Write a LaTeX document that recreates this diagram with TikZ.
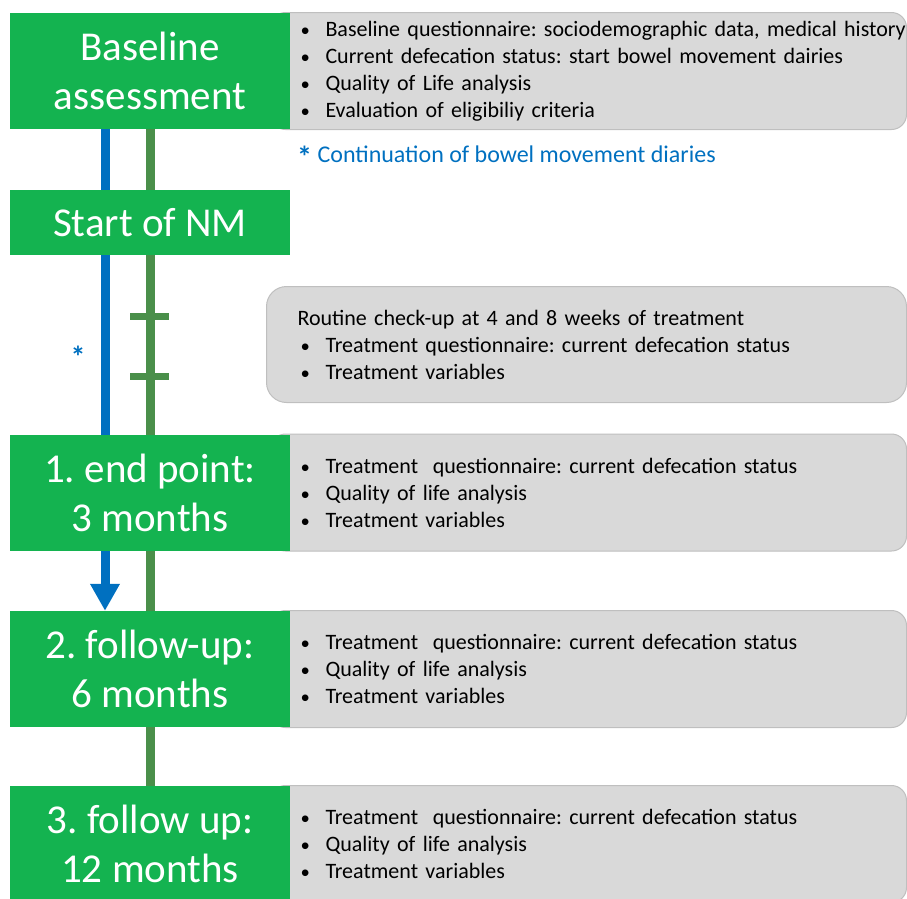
\documentclass[tikz,border=0pt]{standalone}
\usepackage{fontspec}
\setmainfont{Carlito}
\usetikzlibrary{arrows.meta,backgrounds}
\definecolor{boxgreen}{RGB}{20,179,80}
\definecolor{linegreen}{RGB}{74,143,74}
\definecolor{lineblue}{RGB}{0,112,192}
\definecolor{infogray}{RGB}{217,217,217}
\definecolor{infoborder}{RGB}{191,191,191}
\frenchspacing

\begin{document}
\begin{tikzpicture}[x=1pt,y=-1pt]
    \newcommand{\itm}[1]{\mbox{\makebox[25pt][l]{\scalebox{0.85}{\textbullet}}#1}}
    \newcommand{\bigstar}{\textbf{\fontsize{30}{27}\selectfont\raisebox{-5pt}{*}}}

    \tikzstyle{stage}=[
      fill=boxgreen,
      text=white,
      minimum width=280pt,
      minimum height=116pt,
      inner sep=0pt,
      align=center,
      font=\fontsize{41}{49}\selectfont,
    ]
    \tikzstyle{info}=[
      fill=infogray,
      draw=infoborder,
      line width=1pt,
      rounded corners=15pt,
      anchor=west,
      minimum height=117pt,
      text width=576pt,
      inner xsep=30pt,
      align=left,
      font=\fontsize{22}{27}\selectfont,
    ]
    \tikzstyle{routinebox}=[
      info,
      rounded corners=20pt,
      minimum height=116pt,
      text width=578pt,
      inner xsep=31pt,
    ]
    \tikzstyle{greentrack}=[line width=9pt,draw=linegreen]
    \tikzstyle{bluetrack}=[line width=9pt,draw=lineblue,-{Triangle[width=28pt,length=27pt]}]
    \tikzstyle{tickmark}=[line width=7pt,draw=linegreen]
    \tikzstyle{note}=[text=lineblue,font=\fontsize{24}{27}\selectfont,inner sep=0pt]

    \useasboundingbox (0,0) rectangle (907,898);

    {
      \node[info] (baseinfo) at (270,71) {%
        \itm{Baseline questionnaire: sociodemographic data, medical history}\\
        \itm{Current defecation status: start bowel movement dairies}\\
        \itm{Quality of Life analysis}\\
        \itm{Evaluation of eligibiliy criteria}};
      \node[routinebox] (routine) at (266,344.5) {%
        Routine check-up at 4 and 8 weeks of treatment\\
        \hspace*{3pt}\itm{Treatment questionnaire: current defecation status}\\
        \hspace*{3pt}\itm{Treatment variables}};
      \node[info] (endinfo) at (270,492.5) {%
        \itm{Treatment~ questionnaire: current defecation status}\\
        \itm{Quality of life analysis}\\
        \itm{Treatment variables}};
      \node[info] (fu6info) at (270,669) {%
        \itm{Treatment~ questionnaire: current defecation status}\\
        \itm{Quality of life analysis}\\
        \itm{Treatment variables}};
      \node[info] (fu12info) at (270,844) {%
        \itm{Treatment~ questionnaire: current defecation status}\\
        \itm{Quality of life analysis}\\
        \itm{Treatment variables}};
    }

    {
      \node[stage] (base) at (150,71) {Baseline\\assessment};
      \node[stage,minimum height=65pt] (start) at (150,222.5) {Start of NM};
      \node[stage] (endp) at (150,492.5) {1. end point:\\3 months};
      \node[stage] (fu6) at (150,669) {2. follow-up:\\6 months};
      \node[stage] (fu12) at (150,844) {3. follow up:\\12 months};
    }

    \node[note,anchor=west] (diarynote) at (297,157) {\bigstar\ Continuation of bowel movement diaries};
    \node[note] (star) at (78,357) {\bigstar};

    \coordinate (tick1) at (150,316);
    \coordinate (tick2) at (150,376);

    \begin{scope}[on background layer]
      \draw[greentrack] (base.south) -- (fu12.north);
      \draw[bluetrack] ([xshift=-45pt]base.south) -- ([xshift=-45pt]fu6.north);
    \end{scope}
    \draw[tickmark] ([xshift=-20pt]tick1) -- ([xshift=19pt]tick1);
    \draw[tickmark] ([xshift=-20pt]tick2) -- ([xshift=19pt]tick2);
  \end{tikzpicture}
\end{document}
